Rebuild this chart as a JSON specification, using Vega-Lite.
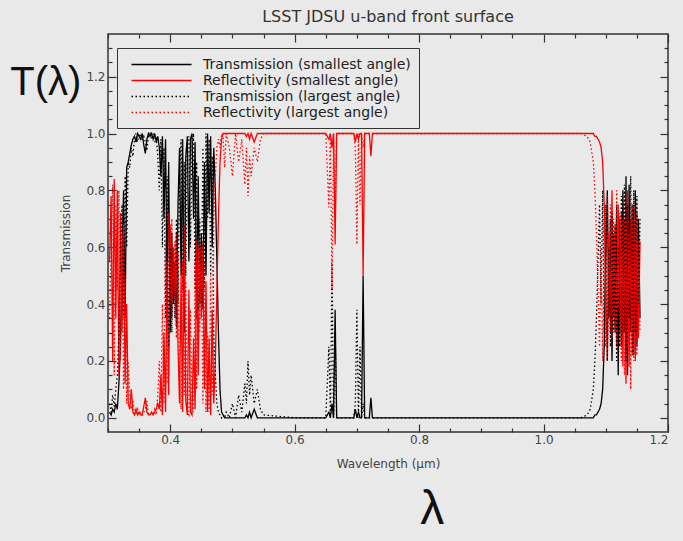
{
  "$schema": "https://vega.github.io/schema/vega-lite/v6.json",
  "width": 560,
  "height": 398,
  "autosize": {"type": "none"},
  "padding": {"left": 108, "top": 34, "right": 15, "bottom": 109},
  "background": "#e9e9e9",
  "title": {"text": "LSST JDSU u-band front surface", "fontSize": 16, "font": "DejaVu Sans", "fontWeight": "normal", "color": "#333", "offset": 8},
  "config": {
    "view": {"stroke": "#333", "strokeWidth": 1.5},
    "axis": {"domain": false, "grid": false, "tickColor": "#333", "tickWidth": 1.2, "labelFont": "DejaVu Sans", "labelFontSize": 12, "labelColor": "#444", "titleFont": "DejaVu Sans", "titleFontSize": 12, "titleFontWeight": "normal", "titleColor": "#444"}
  },
  "datasets": {
    "curves": [
      {"w":0.3025,"ts":0.02,"rs":0.55,"tl":0.05,"rl":0.35},
      {"w":0.305,"ts":0.01,"rs":0.78,"tl":0.02,"rl":0.6},
      {"w":0.3075,"ts":0.03,"rs":0.2,"tl":0.08,"rl":0.82},
      {"w":0.31,"ts":0.02,"rs":0.84,"tl":0.04,"rl":0.15},
      {"w":0.3125,"ts":0.05,"rs":0.35,"tl":0.1,"rl":0.75},
      {"w":0.315,"ts":0.03,"rs":0.8,"tl":0.15,"rl":0.45},
      {"w":0.3175,"ts":0.12,"rs":0.15,"tl":0.3,"rl":0.8},
      {"w":0.32,"ts":0.25,"rs":0.72,"tl":0.55,"rl":0.2},
      {"w":0.3225,"ts":0.55,"rs":0.3,"tl":0.75,"rl":0.65},
      {"w":0.325,"ts":0.8,"rs":0.68,"tl":0.35,"rl":0.1},
      {"w":0.3275,"ts":0.35,"rs":0.12,"tl":0.85,"rl":0.5},
      {"w":0.33,"ts":0.88,"rs":0.4,"tl":0.6,"rl":0.05},
      {"w":0.3325,"ts":0.9,"rs":0.05,"tl":0.9,"rl":0.2},
      {"w":0.335,"ts":0.93,"rs":0.03,"tl":0.88,"rl":0.08},
      {"w":0.3375,"ts":0.96,"rs":0.1,"tl":0.95,"rl":0.03},
      {"w":0.34,"ts":0.98,"rs":0.02,"tl":0.92,"rl":0.06},
      {"w":0.3425,"ts":0.99,"rs":0.01,"tl":0.98,"rl":0.02},
      {"w":0.345,"ts":0.97,"rs":0.03,"tl":1.0,"rl":0.01},
      {"w":0.3475,"ts":1.0,"rs":0.01,"tl":0.97,"rl":0.03},
      {"w":0.35,"ts":0.99,"rs":0.02,"tl":1.0,"rl":0.01},
      {"w":0.3525,"ts":0.98,"rs":0.01,"tl":0.99,"rl":0.02},
      {"w":0.355,"ts":1.0,"rs":0.01,"tl":0.98,"rl":0.01},
      {"w":0.3575,"ts":0.96,"rs":0.04,"tl":0.99,"rl":0.02},
      {"w":0.36,"ts":0.93,"rs":0.07,"tl":0.97,"rl":0.03},
      {"w":0.3625,"ts":0.98,"rs":0.02,"tl":0.94,"rl":0.06},
      {"w":0.365,"ts":1.0,"rs":0.01,"tl":0.99,"rl":0.01},
      {"w":0.3675,"ts":0.99,"rs":0.01,"tl":1.0,"rl":0.01},
      {"w":0.37,"ts":1.0,"rs":0.02,"tl":0.98,"rl":0.02},
      {"w":0.3725,"ts":0.98,"rs":0.01,"tl":1.0,"rl":0.01},
      {"w":0.375,"ts":1.0,"rs":0.02,"tl":0.97,"rl":0.03},
      {"w":0.3775,"ts":0.97,"rs":0.03,"tl":0.99,"rl":0.01},
      {"w":0.38,"ts":0.99,"rs":0.05,"tl":0.92,"rl":0.08},
      {"w":0.3825,"ts":0.95,"rs":0.03,"tl":0.8,"rl":0.2},
      {"w":0.385,"ts":0.85,"rs":0.15,"tl":0.98,"rl":0.02},
      {"w":0.3875,"ts":0.99,"rs":0.01,"tl":0.6,"rl":0.4},
      {"w":0.39,"ts":0.7,"rs":0.3,"tl":0.95,"rl":0.05},
      {"w":0.3925,"ts":0.98,"rs":0.02,"tl":0.35,"rl":0.62},
      {"w":0.395,"ts":0.45,"rs":0.55,"tl":0.85,"rl":0.12},
      {"w":0.3975,"ts":0.9,"rs":0.08,"tl":0.25,"rl":0.72},
      {"w":0.4,"ts":0.3,"rs":0.68,"tl":0.6,"rl":0.4},
      {"w":0.4025,"ts":0.65,"rs":0.35,"tl":0.3,"rl":0.7},
      {"w":0.405,"ts":0.4,"rs":0.6,"tl":0.55,"rl":0.45},
      {"w":0.4075,"ts":0.55,"rs":0.42,"tl":0.35,"rl":0.62},
      {"w":0.41,"ts":0.32,"rs":0.65,"tl":0.7,"rl":0.28},
      {"w":0.4125,"ts":0.75,"rs":0.25,"tl":0.4,"rl":0.58},
      {"w":0.415,"ts":0.95,"rs":0.05,"tl":0.85,"rl":0.15},
      {"w":0.4175,"ts":0.5,"rs":0.5,"tl":0.98,"rl":0.03},
      {"w":0.42,"ts":0.98,"rs":0.02,"tl":0.45,"rl":0.55},
      {"w":0.4225,"ts":0.3,"rs":0.68,"tl":0.9,"rl":0.08},
      {"w":0.425,"ts":0.92,"rs":0.06,"tl":0.5,"rl":0.48},
      {"w":0.4275,"ts":0.99,"rs":0.01,"tl":0.97,"rl":0.02},
      {"w":0.43,"ts":0.55,"rs":0.45,"tl":0.99,"rl":0.01},
      {"w":0.4325,"ts":0.98,"rs":0.02,"tl":0.6,"rl":0.38},
      {"w":0.435,"ts":1.0,"rs":0.01,"tl":0.95,"rl":0.05},
      {"w":0.4375,"ts":0.7,"rs":0.28,"tl":1.0,"rl":0.02},
      {"w":0.44,"ts":0.97,"rs":0.03,"tl":0.45,"rl":0.55},
      {"w":0.4425,"ts":0.35,"rs":0.63,"tl":0.9,"rl":0.1},
      {"w":0.445,"ts":0.85,"rs":0.15,"tl":0.38,"rl":0.6},
      {"w":0.4475,"ts":0.4,"rs":0.6,"tl":0.7,"rl":0.3},
      {"w":0.45,"ts":0.65,"rs":0.35,"tl":0.4,"rl":0.6},
      {"w":0.4525,"ts":0.38,"rs":0.62,"tl":0.95,"rl":0.05},
      {"w":0.455,"ts":0.9,"rs":0.1,"tl":0.45,"rl":0.55},
      {"w":0.4575,"ts":0.5,"rs":0.48,"tl":1.0,"rl":0.02},
      {"w":0.46,"ts":1.0,"rs":0.02,"tl":0.7,"rl":0.3},
      {"w":0.4625,"ts":0.72,"rs":0.28,"tl":0.98,"rl":0.02},
      {"w":0.465,"ts":0.99,"rs":0.01,"tl":0.5,"rl":0.5},
      {"w":0.4675,"ts":0.6,"rs":0.38,"tl":0.92,"rl":0.08},
      {"w":0.47,"ts":0.95,"rs":0.05,"tl":0.3,"rl":0.7},
      {"w":0.4725,"ts":0.8,"rs":0.2,"tl":0.15,"rl":0.85},
      {"w":0.475,"ts":0.55,"rs":0.45,"tl":0.05,"rl":0.95},
      {"w":0.4775,"ts":0.3,"rs":0.7,"tl":0.02,"rl":0.98},
      {"w":0.48,"ts":0.1,"rs":0.9,"tl":0.01,"rl":0.95},
      {"w":0.4825,"ts":0.02,"rs":0.98,"tl":0.0,"rl":1.0},
      {"w":0.485,"ts":0.01,"rs":1.0,"tl":0.01,"rl":0.99},
      {"w":0.4875,"ts":0.0,"rs":1.0,"tl":0.0,"rl":0.88},
      {"w":0.49,"ts":0.0,"rs":1.0,"tl":0.02,"rl":1.0},
      {"w":0.495,"ts":0.0,"rs":1.0,"tl":0.0,"rl":0.95},
      {"w":0.5,"ts":0.0,"rs":1.0,"tl":0.05,"rl":0.85},
      {"w":0.505,"ts":0.0,"rs":1.0,"tl":0.0,"rl":1.0},
      {"w":0.51,"ts":0.0,"rs":1.0,"tl":0.08,"rl":0.9},
      {"w":0.515,"ts":0.0,"rs":1.0,"tl":0.02,"rl":0.98},
      {"w":0.52,"ts":0.0,"rs":1.0,"tl":0.12,"rl":0.82},
      {"w":0.5225,"ts":0.01,"rs":0.99,"tl":0.05,"rl":0.95},
      {"w":0.525,"ts":0.0,"rs":1.0,"tl":0.2,"rl":0.78},
      {"w":0.5275,"ts":0.02,"rs":0.98,"tl":0.08,"rl":0.92},
      {"w":0.53,"ts":0.0,"rs":1.0,"tl":0.15,"rl":0.85},
      {"w":0.535,"ts":0.03,"rs":0.97,"tl":0.05,"rl":0.95},
      {"w":0.54,"ts":0.0,"rs":1.0,"tl":0.1,"rl":0.9},
      {"w":0.545,"ts":0.0,"rs":1.0,"tl":0.03,"rl":0.98},
      {"w":0.55,"ts":0.0,"rs":1.0,"tl":0.01,"rl":1.0},
      {"w":0.6,"ts":0.0,"rs":1.0,"tl":0.0,"rl":1.0},
      {"w":0.65,"ts":0.0,"rs":1.0,"tl":0.0,"rl":1.0},
      {"w":0.655,"ts":0.02,"rs":0.98,"tl":0.25,"rl":0.74},
      {"w":0.6575,"ts":0.0,"rs":1.0,"tl":0.0,"rl":1.0},
      {"w":0.66,"ts":0.05,"rs":0.95,"tl":0.55,"rl":0.45},
      {"w":0.6625,"ts":0.0,"rs":1.0,"tl":0.0,"rl":1.0},
      {"w":0.665,"ts":0.38,"rs":0.61,"tl":0.3,"rl":0.7},
      {"w":0.6675,"ts":0.0,"rs":1.0,"tl":0.0,"rl":1.0},
      {"w":0.695,"ts":0.0,"rs":1.0,"tl":0.0,"rl":1.0},
      {"w":0.6975,"ts":0.03,"rs":0.97,"tl":0.05,"rl":0.95},
      {"w":0.7,"ts":0.0,"rs":1.0,"tl":0.38,"rl":0.61},
      {"w":0.7025,"ts":0.02,"rs":0.98,"tl":0.0,"rl":1.0},
      {"w":0.705,"ts":0.0,"rs":1.0,"tl":0.25,"rl":0.75},
      {"w":0.7075,"ts":0.0,"rs":1.0,"tl":0.0,"rl":1.0},
      {"w":0.71,"ts":0.5,"rs":0.5,"tl":0.05,"rl":0.95},
      {"w":0.7125,"ts":0.0,"rs":1.0,"tl":0.0,"rl":1.0},
      {"w":0.72,"ts":0.0,"rs":1.0,"tl":0.0,"rl":1.0},
      {"w":0.7225,"ts":0.07,"rs":0.92,"tl":0.0,"rl":1.0},
      {"w":0.725,"ts":0.0,"rs":1.0,"tl":0.0,"rl":1.0},
      {"w":0.9,"ts":0.0,"rs":1.0,"tl":0.0,"rl":1.0},
      {"w":1.06,"ts":0.0,"rs":1.0,"tl":0.0,"rl":1.0},
      {"w":1.07,"ts":0.0,"rs":1.0,"tl":0.01,"rl":0.99},
      {"w":1.075,"ts":0.0,"rs":1.0,"tl":0.03,"rl":0.97},
      {"w":1.08,"ts":0.0,"rs":1.0,"tl":0.1,"rl":0.9},
      {"w":1.0825,"ts":0.01,"rs":0.99,"tl":0.2,"rl":0.8},
      {"w":1.085,"ts":0.01,"rs":0.99,"tl":0.35,"rl":0.65},
      {"w":1.0875,"ts":0.02,"rs":0.98,"tl":0.55,"rl":0.45},
      {"w":1.09,"ts":0.03,"rs":0.97,"tl":0.75,"rl":0.25},
      {"w":1.0925,"ts":0.05,"rs":0.95,"tl":0.4,"rl":0.6},
      {"w":1.095,"ts":0.1,"rs":0.9,"tl":0.8,"rl":0.2},
      {"w":1.0975,"ts":0.25,"rs":0.75,"tl":0.3,"rl":0.7},
      {"w":1.1,"ts":0.55,"rs":0.45,"tl":0.75,"rl":0.25},
      {"w":1.1025,"ts":0.8,"rs":0.2,"tl":0.2,"rl":0.78},
      {"w":1.105,"ts":0.35,"rs":0.65,"tl":0.6,"rl":0.4},
      {"w":1.1075,"ts":0.7,"rs":0.3,"tl":0.25,"rl":0.75},
      {"w":1.11,"ts":0.2,"rs":0.8,"tl":0.72,"rl":0.28},
      {"w":1.1125,"ts":0.65,"rs":0.35,"tl":0.3,"rl":0.7},
      {"w":1.115,"ts":0.3,"rs":0.68,"tl":0.68,"rl":0.3},
      {"w":1.1175,"ts":0.75,"rs":0.25,"tl":0.2,"rl":0.8},
      {"w":1.12,"ts":0.15,"rs":0.75,"tl":0.6,"rl":0.38},
      {"w":1.1225,"ts":0.7,"rs":0.3,"tl":0.25,"rl":0.72},
      {"w":1.125,"ts":0.25,"rs":0.72,"tl":0.78,"rl":0.2},
      {"w":1.1275,"ts":0.8,"rs":0.18,"tl":0.3,"rl":0.7},
      {"w":1.13,"ts":0.3,"rs":0.7,"tl":0.82,"rl":0.15},
      {"w":1.1325,"ts":0.85,"rs":0.12,"tl":0.2,"rl":0.78},
      {"w":1.135,"ts":0.15,"rs":0.8,"tl":0.75,"rl":0.25},
      {"w":1.1375,"ts":0.82,"rs":0.18,"tl":0.35,"rl":0.65},
      {"w":1.14,"ts":0.3,"rs":0.7,"tl":0.85,"rl":0.1},
      {"w":1.1425,"ts":0.75,"rs":0.22,"tl":0.22,"rl":0.75},
      {"w":1.145,"ts":0.22,"rs":0.75,"tl":0.8,"rl":0.2},
      {"w":1.1475,"ts":0.8,"rs":0.2,"tl":0.3,"rl":0.7},
      {"w":1.15,"ts":0.25,"rs":0.72,"tl":0.78,"rl":0.22},
      {"w":1.1525,"ts":0.7,"rs":0.28,"tl":0.4,"rl":0.62},
      {"w":1.155,"ts":0.35,"rs":0.62,"tl":0.7,"rl":0.3}
    ],
    "notes": [
      {"t": "T(λ)", "x": 0.2, "y": 1.176, "s": "a"},
      {"t": "λ", "x": 0.821, "y": -0.324, "s": "b"}
    ]
  },
  "layer": [
    {
      "data": {"name": "curves"},
      "transform": [{"fold": ["ts", "rs", "tl", "rl"], "as": ["key", "value"]}],
      "mark": {"type": "line", "strokeWidth": 1.3},
      "encoding": {
        "x": {"field": "w", "type": "quantitative", "scale": {"domain": [0.3, 1.2], "nice": false, "zero": false},
          "axis": {"orient": "bottom", "values": [0.3,0.35,0.4,0.45,0.5,0.55,0.6,0.65,0.7,0.75,0.8,0.85,0.9,0.95,1.0,1.05,1.1,1.15,1.2],
            "tickSize": {"condition": {"test": "round(datum.value*100)%20==0", "value": -8}, "value": -4},
            "labelExpr": "round(datum.value*100)%20==0 ? format(datum.value,'.1f') : ''",
            "labelPadding": 10, "title": "Wavelength (µm)", "titlePadding": 13}},
        "y": {"field": "value", "type": "quantitative", "scale": {"domain": [-0.05, 1.35], "nice": false, "zero": false},
          "axis": {"orient": "left", "values": [0,0.05,0.1,0.15,0.2,0.25,0.3,0.35,0.4,0.45,0.5,0.55,0.6,0.65,0.7,0.75,0.8,0.85,0.9,0.95,1.0,1.05,1.1,1.15,1.2,1.25,1.3],
            "tickSize": {"condition": {"test": "round(datum.value*100)%20==0", "value": -8}, "value": -4},
            "labelExpr": "round(datum.value*100)%20==0 ? format(datum.value,'.1f') : ''",
            "labelPadding": 11, "title": "Transmission", "titlePadding": 13}},
        "color": {"field": "key", "type": "nominal",
          "scale": {"domain": ["ts", "rs", "tl", "rl"], "range": ["#000000", "#ff0000", "#000000", "#ff0000"]},
          "legend": {"orient": "none", "legendX": 9, "legendY": 14, "title": null, "symbolType": "M-4,0H4", "symbolSize": 225, "symbolStrokeWidth": 1.5, "symbolOffset": 28,
            "labelFont": "DejaVu Sans", "labelFontSize": 14, "labelColor": "#222", "labelLimit": 400, "labelOffset": 33, "rowPadding": 0, "strokeColor": "#333", "padding": 8,
            "labelExpr": "{'ts':'Transmission (smallest angle)','rs':'Reflectivity (smallest angle)','tl':'Transmission (largest angle)','rl':'Reflectivity (largest angle)'}[datum.label]"}},
        "strokeDash": {"field": "key", "type": "nominal",
          "scale": {"domain": ["ts", "rs", "tl", "rl"], "range": [[1, 0], [1, 0], [1.5, 2.5], [1.5, 2.5]]},
          "legend": {"orient": "none", "legendX": 9, "legendY": 14, "title": null, "symbolType": "M-4,0H4", "symbolSize": 225, "symbolStrokeWidth": 1.5, "symbolOffset": 28,
            "labelFont": "DejaVu Sans", "labelFontSize": 14, "labelColor": "#222", "labelLimit": 400, "labelOffset": 33, "rowPadding": 0, "strokeColor": "#333", "padding": 8,
            "labelExpr": "{'ts':'Transmission (smallest angle)','rs':'Reflectivity (smallest angle)','tl':'Transmission (largest angle)','rl':'Reflectivity (largest angle)'}[datum.label]"}}
      }
    },
    {
      "data": {"name": "curves"},
      "mark": {"type": "line", "opacity": 0},
      "encoding": {
        "x": {"field": "w", "type": "quantitative", "scale": {"domain": [0.3, 1.2], "nice": false, "zero": false},
          "axis": {"orient": "top", "values": [0.3,0.35,0.4,0.45,0.5,0.55,0.6,0.65,0.7,0.75,0.8,0.85,0.9,0.95,1.0,1.05,1.1,1.15,1.2],
            "tickSize": {"condition": {"test": "round(datum.value*100)%20==0", "value": -8}, "value": -4},
            "labels": false, "title": null}},
        "y": {"field": "ts", "type": "quantitative", "scale": {"domain": [-0.05, 1.35], "nice": false, "zero": false},
          "axis": {"orient": "right", "values": [0,0.05,0.1,0.15,0.2,0.25,0.3,0.35,0.4,0.45,0.5,0.55,0.6,0.65,0.7,0.75,0.8,0.85,0.9,0.95,1.0,1.05,1.1,1.15,1.2,1.25,1.3],
            "tickSize": {"condition": {"test": "round(datum.value*100)%20==0", "value": -8}, "value": -4},
            "labels": false, "title": null}}
      }
    },
    {
      "data": {"name": "notes"},
      "mark": {"type": "text", "font": "Liberation Sans", "color": "#111", "align": "center", "baseline": "middle"},
      "encoding": {
        "x": {"field": "x", "type": "quantitative", "scale": {"domain": [0.3, 1.2], "nice": false, "zero": false}, "axis": null},
        "y": {"field": "y", "type": "quantitative", "scale": {"domain": [-0.05, 1.35], "nice": false, "zero": false}, "axis": null},
        "size": {"field": "s", "type": "nominal", "scale": {"domain": ["a", "b"], "range": [40, 48]}, "legend": null},
        "text": {"field": "t"}
      }
    }
  ],
  "resolve": {"axis": {"x": "independent", "y": "independent"}}
}
